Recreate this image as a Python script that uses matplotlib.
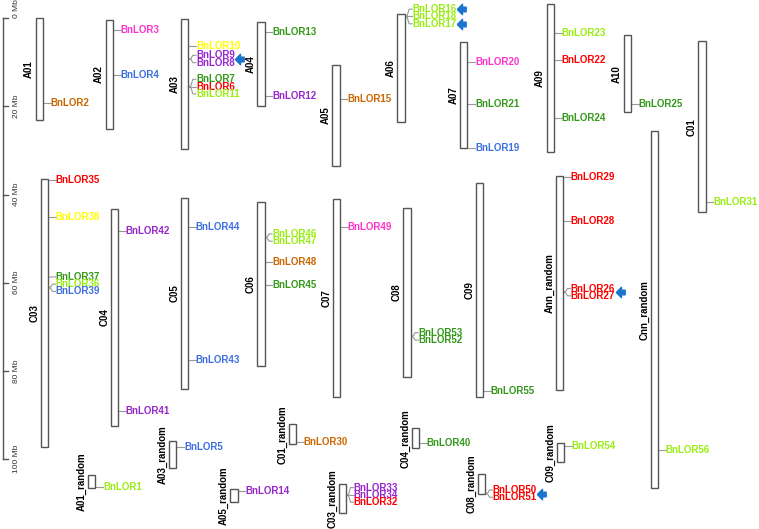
import matplotlib
matplotlib.use('Agg')
import matplotlib.pyplot as plt
from matplotlib.patches import Rectangle
from matplotlib.path import Path

plt.rcParams['font.family'] = ['Liberation Sans', 'DejaVu Sans']

# chromosomes (length in Mb)
chrom_names = ['A01', 'A02', 'A03', 'A04', 'A05', 'A06', 'A07', 'A09', 'A10', 'C01',
               'C03', 'C04', 'C05', 'C06', 'C07', 'C08', 'C09', 'Ann_random', 'Cnn_random',
               'A01_random', 'A03_random', 'A05_random', 'C01_random', 'C03_random',
               'C04_random', 'C08_random', 'C09_random']
chrom_lengths = [23.2, 24.7, 29.6, 19.1, 22.85, 24.5, 24.0, 33.7, 17.4, 38.8,
                 60.7, 49.1, 43.2, 37.2, 44.9, 38.5, 48.7, 48.6, 81.1,
                 2.8, 6.0, 2.95, 4.5, 6.6, 4.5, 4.5, 4.4]

# genes: name, chromosome, position from chromosome top (Mb), colour group
gene_names = ['BnLOR2', 'BnLOR3', 'BnLOR4', 'BnLOR10', 'BnLOR9', 'BnLOR8', 'BnLOR7', 'BnLOR6',
              'BnLOR11', 'BnLOR13', 'BnLOR12', 'BnLOR15', 'BnLOR16', 'BnLOR18', 'BnLOR17',
              'BnLOR20', 'BnLOR21', 'BnLOR19', 'BnLOR23', 'BnLOR22', 'BnLOR24', 'BnLOR25',
              'BnLOR31', 'BnLOR35', 'BnLOR38', 'BnLOR37', 'BnLOR36', 'BnLOR39', 'BnLOR42',
              'BnLOR41', 'BnLOR44', 'BnLOR43', 'BnLOR46', 'BnLOR47', 'BnLOR48', 'BnLOR45',
              'BnLOR49', 'BnLOR53', 'BnLOR52', 'BnLOR55', 'BnLOR29', 'BnLOR28', 'BnLOR26',
              'BnLOR27', 'BnLOR56', 'BnLOR1', 'BnLOR5', 'BnLOR14', 'BnLOR30', 'BnLOR33',
              'BnLOR34', 'BnLOR32', 'BnLOR40', 'BnLOR50', 'BnLOR51', 'BnLOR54']
gene_chroms = ['A01', 'A02', 'A02', 'A03', 'A03', 'A03', 'A03', 'A03',
               'A03', 'A04', 'A04', 'A05', 'A06', 'A06', 'A06',
               'A07', 'A07', 'A07', 'A09', 'A09', 'A09', 'A10',
               'C01', 'C03', 'C03', 'C03', 'C03', 'C03', 'C04',
               'C04', 'C05', 'C05', 'C06', 'C06', 'C06', 'C06',
               'C07', 'C08', 'C08', 'C09', 'Ann_random', 'Ann_random', 'Ann_random',
               'Ann_random', 'Cnn_random', 'A01_random', 'A03_random', 'A05_random', 'C01_random', 'C03_random',
               'C03_random', 'C03_random', 'C04_random', 'C08_random', 'C08_random', 'C09_random']
gene_pos = [19.3, 2.2, 12.4, 6.3, 9.1, 9.2, 15.3, 15.4,
            15.5, 2.3, 16.9, 7.8, 0.4, 0.5, 0.6,
            4.6, 14.1, 24.0, 6.6, 12.7, 26.0, 15.5,
            36.4, 0.15, 8.6, 22.2, 24.5, 24.7, 4.9,
            45.7, 6.4, 36.6, 7.9, 8.1, 13.6, 18.8,
            6.35, 29.1, 29.3, 47.2, 0.1, 10.1, 26.2,
            26.4, 72.5, 2.6, 1.3, 0.4, 4.0, 2.3,
            2.4, 2.5, 3.3, 4.4, 4.5, 0.6]
gene_groups = ['orange', 'magenta', 'blue', 'yellow', 'purple', 'purple', 'green', 'red',
               'lime', 'green', 'purple', 'orange', 'lime', 'lime', 'lime',
               'magenta', 'green', 'blue', 'lime', 'red', 'green', 'green',
               'lime', 'red', 'yellow', 'green', 'lime', 'blue', 'purple',
               'purple', 'blue', 'blue', 'lime', 'lime', 'orange', 'green',
               'magenta', 'green', 'green', 'green', 'red', 'red', 'red',
               'red', 'lime', 'lime', 'blue', 'purple', 'orange', 'purple',
               'purple', 'red', 'green', 'red', 'red', 'lime']
flagged = [('BnLOR9', 'BnLOR8'), ('BnLOR16',), ('BnLOR17',),
           ('BnLOR26', 'BnLOR27'), ('BnLOR50', 'BnLOR51')]
scale_ticks = [0, 20, 40, 60, 80, 100]

palette = {'orange': '#CC6600', 'magenta': '#FF33CC', 'blue': '#3D6FE3', 'yellow': '#FFFF00',
           'purple': '#9926CC', 'green': '#339919', 'red': '#FF0000', 'lime': '#99EE11'}

# layout: left edge (px) and top (Mb on the shared scale)
chrom_x = [35.7, 105.7, 181, 257.3, 332.3, 397.3, 460, 546.7, 623.7, 698.3,
           40.7, 110.7, 180.7, 257.3, 332.7, 403.3, 475.7, 555.7, 650.7,
           88, 169, 230.3, 288.7, 338.7, 411.7, 477.7, 556.7]
chrom_top = [-0.14, 0.39, 0.09, 0.77, 10.6, -0.91, 5.38, -3.31, 3.86, 5.22,
             36.53, 43.34, 40.85, 41.75, 41.07, 42.98, 37.3, 35.85, 25.57,
             103.7, 95.98, 106.8, 92.12, 105.74, 93.03, 103.4, 96.37]

PX_PER_MB = 4.407
Y0 = 18.3
W = 7.3
GAP = 7.3 / PX_PER_MB


def spread(pos):
    # keep labels apart, centring overlapping clusters on their genes
    groups = [[p] for p in sorted(pos)]
    def lab(g):
        c = sum(g) / len(g)
        return [c + (k - (len(g) - 1) / 2) * GAP for k in range(len(g))]
    merged = True
    while merged:
        merged = False
        for i in range(len(groups) - 1):
            if lab(groups[i])[-1] + GAP > lab(groups[i + 1])[0] + 1e-9:
                groups[i] = groups[i] + groups.pop(i + 1)
                merged = True
                break
    out = []
    for g in groups:
        out += lab(g)
    return out


fig = plt.figure(figsize=(7.59, 5.29), dpi=100)
ax = fig.add_axes([0, 0, 1, 1])
ax.set_xlim(0, 759)
ax.set_ylim((529 - Y0) / PX_PER_MB, -Y0 / PX_PER_MB)
ax.axis('off')

# scale bar
ax.plot([3, 3], [scale_ticks[0], scale_ticks[-1]], color='#555555', lw=1)
for t in scale_ticks:
    ax.plot([3, 8], [t, t], color='#555555', lw=1)
    ax.text(16.5, t, '%d Mb' % t, rotation=90, fontsize=6, color='#333333',
            ha='center', va='bottom' if t == 0 else 'center')

label_y = {}
label_art = {}
for name, length, x, top in zip(chrom_names, chrom_lengths, chrom_x, chrom_top):
    ax.add_patch(Rectangle((x, top), W, length, facecolor='white',
                           edgecolor='#555555', lw=1, zorder=3))
    ax.text(x - 6.5, top + length / 2, name, rotation=90, fontsize=7,
            fontweight='bold', ha='center', va='center')
    idx = [i for i, c in enumerate(gene_chroms) if c == name]
    idx.sort(key=lambda i: gene_pos[i])
    ys = spread([gene_pos[i] for i in idx])
    right = x + W
    for i, ly in zip(idx, ys):
        gy = top + gene_pos[i]
        ly = top + ly
        ax.plot([right, right + 2.5, right + 4.5, right + 7.5], [gy, gy, ly, ly],
                color='#999999', lw=0.8, zorder=2)
        label_art[gene_names[i]] = ax.text(right + 7.8, ly, gene_names[i], fontsize=7,
                                           fontweight='bold', color=palette[gene_groups[i]],
                                           ha='left', va='center')
        label_y[gene_names[i]] = ly

# arrows marking selected genes
arrow = Path([(-1, 0), (0, 1), (0, 0.45), (0.7, 0.45), (0.7, -0.45), (0, -0.45), (0, -1), (-1, 0)])
fig.canvas.draw()
r = fig.canvas.get_renderer()
inv = ax.transData.inverted()
for grp in flagged:
    xe = max(inv.transform((label_art[g].get_window_extent(r).x1, 0))[0] for g in grp)
    ym = sum(label_y[g] for g in grp) / len(grp)
    ax.plot(xe + 5.5, ym, marker=arrow, markersize=7.5, color='#1874CD', mec='#1874CD')

fig.savefig('out.png', dpi=100)
